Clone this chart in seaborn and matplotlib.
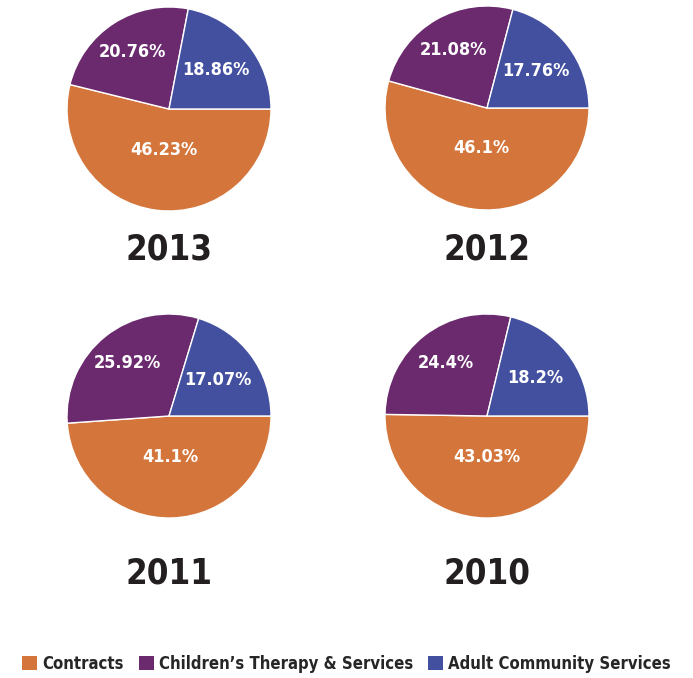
"""
Funding split by service area, one pie per year (2010-2013)
"""

import numpy as np
import matplotlib.pyplot as plt
import seaborn as sns
from matplotlib.patches import Patch

sns.set_style("white")
plt.rcParams['font.family'] = ['DejaVu Sans']
plt.rcParams['font.stretch'] = 'condensed'

# Data (shares do not add to 100 in the source)
years = ['2013', '2012', '2011', '2010']
services = ['Contracts', 'Children\u2019s Therapy & Services', 'Adult Community Services']
contracts = [46.23, 46.1, 41.1, 43.03]
childrens = [20.76, 21.08, 25.92, 24.4]
adult = [18.86, 17.76, 17.07, 18.2]
value_labels = [
    ['46.23%', '20.76%', '18.86%'],
    ['46.1%', '21.08%', '17.76%'],
    ['41.1%', '25.92%', '17.07%'],
    ['43.03%', '24.4%', '18.2%'],
]

colors = sns.color_palette(['#D4763B', '#6B2A6E', '#4350A0'])

W, H = 693, 678
fig = plt.figure(figsize=(W / 100, H / 100), dpi=100)

# pie centres in pixels (from top-left), radius in pixels
centres = [(169, 109), (487, 108), (169, 416), (487, 416)]
radius = 102
title_y = [250, 250, 573, 573]
label_dist = [0.40, 0.66, 0.60]

for i, year in enumerate(years):
    cx, cy = centres[i]
    ax = fig.add_axes([(cx - radius) / W, 1 - (cy + radius) / H,
                       2 * radius / W, 2 * radius / H])
    vals = [contracts[i], childrens[i], adult[i]]
    wedges, _ = ax.pie(vals, colors=colors, startangle=0, counterclock=False,
                       wedgeprops=dict(edgecolor='white', linewidth=1))
    for w, lab, d in zip(wedges, value_labels[i], label_dist):
        ang = np.deg2rad((w.theta1 + w.theta2) / 2)
        ax.text(d * np.cos(ang), d * np.sin(ang), lab, ha='center', va='center',
                color='white', fontsize=13, fontweight='bold',
                fontstretch='condensed')
    ax.set_xlim(-1, 1)
    ax.set_ylim(-1, 1)
    ax.set_aspect('equal')
    ax.axis('off')
    fig.text(cx / W, 1 - title_y[i] / H, year, ha='center', va='center',
             fontsize=25, fontweight='bold', fontstretch='condensed',
             color='#231f20')

handles = [Patch(facecolor=c, edgecolor='none') for c in colors]
fig.legend(handles, services, loc='center', bbox_to_anchor=(0.5, 1 - 664 / H),
           ncol=3, frameon=False, handlelength=0.9, handleheight=0.9,
           handletextpad=0.3, columnspacing=0.9,
           prop=dict(size=12, weight='bold', stretch='condensed'))

plt.savefig('out.png', dpi=100)
plt.close()
